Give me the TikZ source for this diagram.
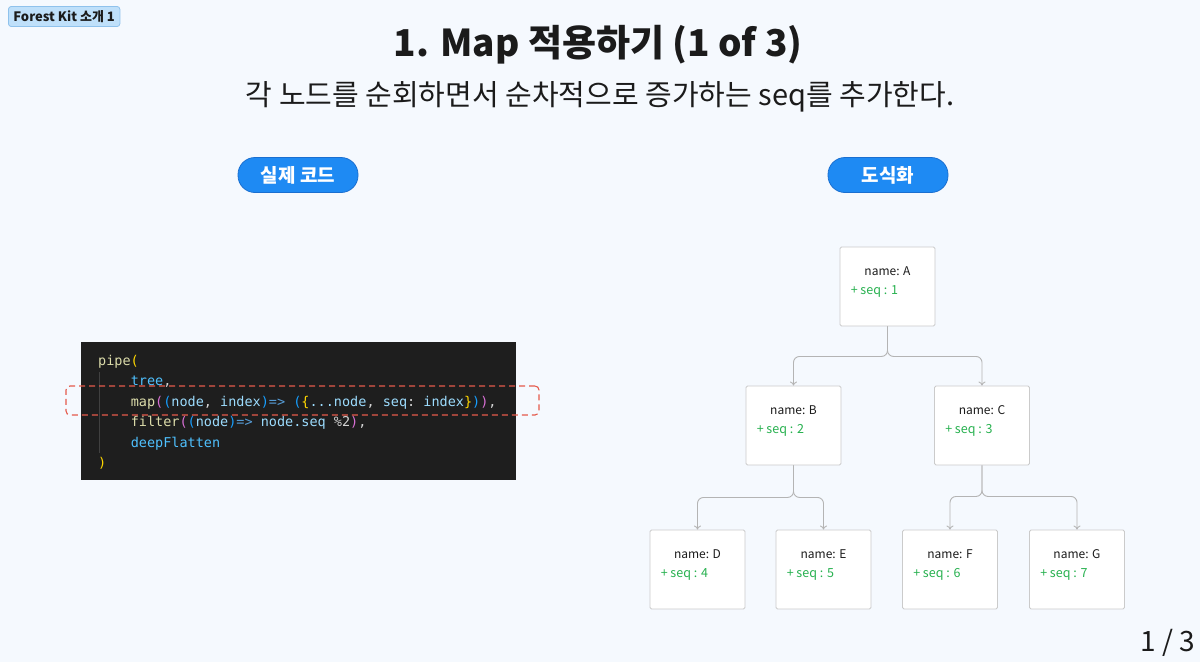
\documentclass[tikz,border=0pt]{standalone}
\usepackage{fontspec}
\setmainfont{Noto Sans CJK KR}
\setmonofont{DejaVu Sans Mono}
\usetikzlibrary{arrows.meta}

\definecolor{pagebg}{HTML}{F5F9FE}
\definecolor{badgefill}{HTML}{BFE0FA}
\definecolor{badgeline}{HTML}{8FC2EC}
\definecolor{btnblue}{HTML}{1E8AF3}
\definecolor{btnline}{HTML}{1A6FD0}
\definecolor{codebg}{HTML}{1E1E1E}
\definecolor{guide}{HTML}{404040}
\definecolor{hlred}{HTML}{E55A4B}
\definecolor{boxline}{HTML}{CBCBCB}
\definecolor{linkgray}{HTML}{B4B4B4}
\definecolor{seqgreen}{HTML}{27B14F}
\definecolor{ink}{HTML}{1B1B1B}
% code colours
\definecolor{cfunc}{HTML}{DCDCAA}
\definecolor{cgold}{HTML}{FFD700}
\definecolor{cpink}{HTML}{DA70D6}
\definecolor{cblue}{HTML}{179FFF}
\definecolor{cvar}{HTML}{9CDCFE}
\definecolor{cconst}{HTML}{4FC1FF}
\definecolor{ckey}{HTML}{569CD6}
\definecolor{cplain}{HTML}{D4D4D4}

\newcommand{\tok}[2]{\textcolor{#1}{#2}}

\tikzset{
  badge/.style={draw=badgeline, fill=badgefill, rounded corners=3pt, line width=0.8pt,
    font=\fontsize{13}{15}\selectfont\bfseries, text=ink, inner xsep=5pt, inner ysep=4pt},
  button/.style={draw=btnline, fill=btnblue, rounded corners=17pt, line width=0.8pt,
    minimum width=120pt, minimum height=35pt, text=white,
    font=\fontsize{19}{22}\selectfont\bfseries},
  codeline/.style={anchor=base west, inner sep=0pt, text=cplain,
    font=\ttfamily\fontsize{13.5}{16}\selectfont},
  treebox/.style={draw=boxline, fill=white, line width=0.9pt, rounded corners=1.5pt,
    minimum width=95pt, minimum height=79pt},
  nametext/.style={inner sep=0pt, text=ink, font=\fontsize{12}{14}\selectfont},
  seqtext/.style={inner sep=0pt, anchor=west, text=seqgreen, font=\fontsize{12.5}{14}\selectfont},
  link/.style={draw=linkgray, line width=0.9pt, rounded corners=6pt,
    -{To[length=4pt,width=7pt]}},
}

\begin{document}
\begin{tikzpicture}[x=1pt,y=-1pt]
  \fill[pagebg] (0,0) rectangle (1200,662);
  \useasboundingbox (0,0) rectangle (1200,662);

  % header
  \node[badge, anchor=north west] (badge) at (8,6) {Forest Kit 소개 1};
  \node[text=ink, font=\fontsize{37}{42}\selectfont\bfseries] (title) at (598,45) {1. Map 적용하기 (1 of 3)};
  \node[text=ink, font=\fontsize{29}{34}\selectfont] (subtitle) at (600,97) {각 노드를 순회하면서 순차적으로 증가하는 seq를 추가한다.};

  \node[button] (codebtn) at (298,175) {실제 코드};
  \node[button] (diagbtn) at (888,175) {도식화};

  % code panel
  \node[fill=codebg, minimum width=435pt, minimum height=138pt, inner sep=0pt] (code) at (298.5,411) {};
  \draw[guide, line width=0.8pt] (99,372) -- (99,453);
  \node[codeline] (code1) at (98,365) {\tok{cfunc}{pipe}\tok{cgold}{(}};
  \node[codeline] (code2) at (130.6,385.5) {\tok{cconst}{tree},};
  \node[codeline] (code3) at (130.6,406) {\tok{cfunc}{map}\tok{cpink}{(}\tok{cblue}{(}\tok{cvar}{node}, \tok{cvar}{index}\tok{cblue}{)}\tok{ckey}{=>} \tok{cblue}{(}\tok{cgold}{\{}\tok{cvar}{...node}, \tok{cvar}{seq}: \tok{cvar}{index}\tok{cgold}{\}}\tok{cblue}{)}\tok{cpink}{)},};
  \node[codeline] (code4) at (130.6,426.5) {\tok{cfunc}{filter}\tok{cpink}{(}\tok{cblue}{(}\tok{cvar}{node}\tok{cblue}{)}\tok{ckey}{=>} \tok{cvar}{node.seq} \%2\tok{cpink}{)},};
  \node[codeline] (code5) at (130.6,447) {\tok{cconst}{deepFlatten}};
  \node[codeline] (code6) at (98,467.5) {\tok{cgold}{)}};
  \node[draw=hlred, dashed, dash pattern=on 6pt off 4pt, line width=1.1pt, rounded corners=4pt,
    minimum width=473pt, minimum height=29pt, inner sep=0pt] (hl) at (302.5,400.5) {};

  % tree
  \foreach \n/\x/\y/\s in {A/887.5/286.5/1, B/793.5/425.5/2, C/982/425.5/3,
      D/697.5/569.5/4, E/823.5/569.5/5, F/950/569.5/6, G/1077/569.5/7} {
    \node[treebox] (\n) at (\x,\y) {};
    \node[nametext] (\n-name) at ([yshift=-25pt]\n.north) {name: \n};
    \node[seqtext] (\n-seq) at ([xshift=11pt,yshift=-45pt]\n.north west) {+ seq : \s};
  }
  \draw[link] (A.south) -- ++(0,30) -| (B.north);
  \draw[link] (A.south) -- ++(0,30) -| (C.north);
  \draw[link] (B.south) -- ++(0,32) -| (D.north);
  \draw[link] (B.south) -- ++(0,32) -| (E.north);
  \draw[link] (C.south) -- ++(0,31) -| (F.north);
  \draw[link] (C.south) -- ++(0,31) -| (G.north);

  \node[anchor=east, text=ink, font=\fontsize{28}{32}\selectfont] (pagenum) at (1199,643) {1 / 3};
\end{tikzpicture}
\end{document}
